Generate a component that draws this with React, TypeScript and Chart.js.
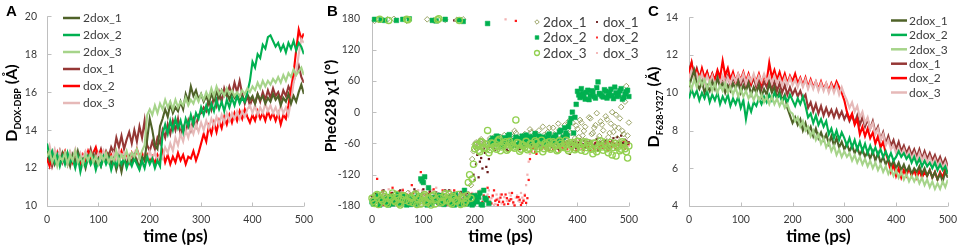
import React, { useEffect, useRef } from 'react';
import { Chart, registerables } from 'chart.js';

Chart.register(...registerables);

const FONT = "Lato, 'Liberation Sans', Arial, sans-serif";
const TICK_COLOR = '#3a3a3a';
const LEGEND_COLOR = '#404040';
const AXIS_COLOR = '#BFBFBF';

// time (ps), sampled every 5 ps
const TIME = [
  0, 5, 10, 15, 20, 25, 30, 35, 40, 45, 50, 55, 60, 65, 70, 75, 80, 85, 90, 95,
  100, 105, 110, 115, 120, 125, 130, 135, 140, 145, 150, 155, 160, 165, 170, 175, 180, 185, 190, 195,
  200, 205, 210, 215, 220, 225, 230, 235, 240, 245, 250, 255, 260, 265, 270, 275, 280, 285, 290, 295,
  300, 305, 310, 315, 320, 325, 330, 335, 340, 345, 350, 355, 360, 365, 370, 375, 380, 385, 390, 395,
  400, 405, 410, 415, 420, 425, 430, 435, 440, 445, 450, 455, 460, 465, 470, 475, 480, 485, 490, 495,
  500,
];
// intermediate frames (panel B scatter), every 5 ps offset by 2.5 ps
const TIME_ODD = [
  2.5, 7.5, 12.5, 17.5, 22.5, 27.5, 32.5, 37.5, 42.5, 47.5, 52.5, 57.5, 62.5, 67.5, 72.5, 77.5, 82.5, 87.5, 92.5, 97.5,
  102.5, 107.5, 112.5, 117.5, 122.5, 127.5, 132.5, 137.5, 142.5, 147.5, 152.5, 157.5, 162.5, 167.5, 172.5, 177.5, 182.5, 187.5, 192.5, 197.5,
  202.5, 207.5, 212.5, 217.5, 222.5, 227.5, 232.5, 237.5, 242.5, 247.5, 252.5, 257.5, 262.5, 267.5, 272.5, 277.5, 282.5, 287.5, 292.5, 297.5,
  302.5, 307.5, 312.5, 317.5, 322.5, 327.5, 332.5, 337.5, 342.5, 347.5, 352.5, 357.5, 362.5, 367.5, 372.5, 377.5, 382.5, 387.5, 392.5, 397.5,
  402.5, 407.5, 412.5, 417.5, 422.5, 427.5, 432.5, 437.5, 442.5, 447.5, 452.5, 457.5, 462.5, 467.5, 472.5, 477.5, 482.5, 487.5, 492.5, 497.5,
];

const SERIES = ['2dox_1', '2dox_2', '2dox_3', 'dox_1', 'dox_2', 'dox_3'];
const LINE_COLORS = ['#4F6228', '#00B050', '#A6D48A', '#953735', '#FF0000', '#E6B9B8'];

// ---------- Panel A : D DOX-DBP (Å) ----------
const A_2DOX_1 = [
  12.9, 12.4, 12.7, 12.2, 12.6, 12.3, 12.8, 12.4, 12.6, 12.1,
  12.7, 12.3, 12.9, 12.4, 12.5, 12.0, 12.6, 12.3, 12.7, 12.2,
  12.5, 12.1, 12.6, 12.3, 12.7, 12.2, 12.5, 11.9, 12.4, 11.8,
  12.5, 12.2, 12.6, 12.3, 12.7, 12.4, 12.0, 12.6, 12.4, 13.5,
  14.6, 14.0, 13.2, 13.0, 14.2, 14.6, 15.1, 14.7, 15.4, 14.9,
  15.2, 15.0, 15.5, 15.1, 15.9, 15.5, 16.3, 15.8, 16.1, 15.6,
  15.9, 15.5, 15.8, 15.4, 15.9, 15.6, 16.0, 15.7, 16.1, 15.8,
  16.0, 15.6, 16.0, 15.7, 15.9, 15.5, 15.8, 15.5, 15.9, 15.6,
  15.8, 15.4, 15.9, 15.6, 15.8, 15.4, 15.7, 15.5, 15.9, 15.6,
  15.8, 15.3, 15.7, 15.5, 15.9, 15.4, 15.8, 15.5, 16.0, 16.4,
  15.9,
];
const A_2DOX_2 = [
  13.3, 12.6, 12.9, 12.3, 12.7, 12.1, 12.6, 12.2, 12.8, 12.3,
  12.5, 12.0, 12.6, 11.8, 12.4, 12.1, 12.6, 12.2, 12.5, 11.9,
  12.4, 12.1, 12.6, 12.2, 12.5, 11.9, 12.4, 12.1, 12.6, 12.2,
  12.5, 12.0, 12.4, 12.1, 12.5, 12.2, 11.9, 12.4, 12.0, 12.6,
  12.2, 12.5, 12.0, 12.4, 12.1, 13.8, 14.3, 13.8, 14.5, 14.0,
  14.6, 14.1, 14.5, 13.9, 14.6, 14.2, 14.8, 14.3, 14.9, 14.6,
  15.2, 14.8, 15.3, 14.9, 15.4, 15.0, 15.6, 15.1, 15.5, 15.0,
  15.6, 15.2, 15.7, 15.3, 15.8, 15.4, 15.7, 15.5, 16.0, 16.6,
  17.6, 17.3, 18.0, 17.8, 18.5, 18.3, 18.9, 19.0, 18.7, 18.4,
  18.6, 18.2, 18.5, 18.1, 18.6, 18.3, 18.7, 18.2, 18.6, 18.4,
  18.0,
];
const A_2DOX_3 = [
  12.6, 12.9, 12.3, 12.7, 12.1, 12.6, 12.4, 12.8, 12.2, 12.7,
  12.4, 12.9, 12.3, 12.6, 12.2, 12.7, 12.4, 12.8, 12.3, 12.6,
  12.2, 12.7, 12.4, 12.8, 12.3, 12.6, 12.4, 12.9, 12.3, 12.7,
  12.5, 12.9, 12.4, 12.8, 12.6, 13.0, 12.5, 12.9, 13.2, 14.8,
  15.1, 14.8, 15.3, 14.9, 15.4, 15.1, 15.6, 15.2, 15.5, 15.1,
  15.6, 15.2, 15.5, 15.3, 15.7, 15.3, 15.6, 15.4, 15.8, 15.5,
  15.9, 15.6, 16.0, 15.7, 16.2, 15.8, 16.3, 15.9, 16.1, 15.8,
  16.2, 15.9, 16.1, 15.8, 16.0, 15.8, 16.1, 15.9, 16.2, 16.0,
  16.3, 16.1, 16.5, 16.2, 16.6, 16.3, 16.6, 16.4, 16.7, 16.5,
  16.8, 16.5, 16.9, 16.6, 17.0, 16.8, 17.2, 16.9, 17.1, 17.3,
  16.9,
];
const A_DOX_1 = [
  12.3, 12.8, 12.1, 12.6, 12.4, 12.9, 12.3, 12.7, 12.2, 12.8,
  12.5, 12.9, 12.4, 12.7, 12.3, 12.8, 12.5, 13.0, 12.4, 12.8,
  12.6, 13.0, 12.5, 12.9, 12.6, 13.1, 12.8, 13.6, 13.1, 13.7,
  13.0, 13.5, 13.9, 13.3, 14.0, 13.4, 14.2, 13.6, 14.5, 13.2,
  12.9, 13.4, 13.0, 13.6, 13.3, 14.0, 13.6, 14.3, 13.8, 14.5,
  14.0, 14.6, 13.8, 14.2, 13.9, 14.5, 14.0, 14.6, 14.2, 14.8,
  14.9, 15.2, 15.0, 15.6, 15.1, 15.8, 15.3, 16.0, 15.5, 16.2,
  15.8, 16.3, 15.9, 16.5, 16.0, 16.6, 15.9, 15.4, 15.8, 15.3,
  15.7, 15.4, 15.9, 15.5, 16.0, 15.6, 16.1, 15.7, 16.2, 15.8,
  16.0, 15.6, 16.1, 15.8, 16.3, 16.0, 16.6, 17.0, 17.4, 16.8,
  16.5,
];
const A_DOX_2 = [
  12.5, 12.1, 12.7, 12.3, 12.8, 12.2, 12.6, 12.9, 12.4, 12.7,
  12.3, 12.8, 12.5, 12.2, 12.7, 12.4, 12.9, 12.5, 12.8, 13.1,
  12.6, 12.9, 12.5, 12.8, 12.4, 12.7, 12.3, 12.8, 12.5, 12.9,
  12.4, 12.7, 12.3, 12.8, 12.5, 13.0, 12.6, 12.8, 12.4, 12.7,
  12.3, 12.6, 12.2, 12.7, 12.4, 12.9, 12.3, 12.7, 12.2, 12.6,
  12.3, 12.8, 12.4, 12.7, 12.2, 12.6, 12.5, 12.9, 12.4, 12.8,
  13.3, 13.8, 13.4, 14.2, 13.8, 14.4, 13.9, 14.5, 14.1, 14.7,
  14.3, 14.8, 14.4, 14.9, 14.5, 15.0, 14.6, 15.1, 14.7, 14.4,
  14.8, 14.5, 15.0, 14.6, 14.9, 14.5, 15.0, 14.6, 14.9, 14.5,
  14.9, 14.3, 14.8, 14.6, 15.3, 16.2, 17.0, 18.2, 19.3, 18.8,
  19.1,
];
const A_DOX_3 = [
  12.8, 13.2, 12.6, 13.0, 12.5, 12.9, 12.4, 12.8, 12.5, 12.9,
  12.6, 13.0, 12.4, 12.8, 12.5, 12.9, 12.6, 12.2, 12.7, 12.4,
  12.8, 12.5, 12.9, 12.4, 12.7, 12.3, 12.8, 12.5, 12.9, 12.6,
  12.8, 12.4, 12.7, 12.3, 12.8, 12.4, 12.6, 12.2, 12.7, 12.4,
  12.9, 12.5, 12.8, 12.4, 12.7, 12.5, 13.1, 12.8, 13.3, 12.9,
  13.6, 13.2, 13.8, 13.4, 14.0, 13.6, 14.2, 13.8, 14.3, 13.9,
  14.4, 14.0, 14.5, 14.1, 14.6, 14.2, 14.7, 14.3, 14.8, 14.4,
  14.9, 14.5, 14.9, 14.6, 15.0, 14.6, 15.0, 14.7, 15.1, 15.3,
  14.9, 15.3, 14.8, 15.2, 14.9, 15.4, 15.0, 15.3, 14.9, 15.2,
  14.8, 15.3, 14.9, 15.2, 14.8, 15.5, 16.5, 17.0, 18.0, 18.8,
  18.6,
];

// ---------- Panel B : Phe628 chi1 (deg) ----------
const B_2DOX_1 = [
  -168, 175, -160, -172, -158, -166, 178, -163, -170, -157,
  -167, -174, -161, -169, -155, -165, -172, -160, -168, -176,
  -162, -158, -170, -164, 176, -167, -159, -173, -163, -168,
  -156, -171, -165, 177, -161, -169, -158, -166, -172, -90,
  -62, -70, -55, -66, -59, -72, -50, -63, -57, -68,
  -48, -61, -54, -66, -45, -58, -40, -62, -52, -64,
  -46, -56, -38, -60, -50, -35, -58, -44, -62, -30,
  -53, -42, -58, -34, -48, -25, -55, -38, -20, -50,
  -32, -15, -45, -28, -60, -12, -40, -25, -52, -18,
  -35, -8, -48, -22, -38, -5, -30, 10, -42, 50,
  -20,
];
const B_2DOX_1_ODD = [
  -162, -171, 177, -166, -159, -174, -164, -169, 179, -161,
  -173, -158, -166, 175, -170, -162, -157, -171, -165, -160,
  -169, 178, -163, -172, -156, -166, -174, -160, 177, -165,
  -170, -159, -167, -174, -162, 178, -168, -157, -140, -75,
  -58, -67, -52, -61, -70, -56, -64, -48, -60, -53,
  -65, -44, -57, -50, -62, -36, -55, -47, -59, -42,
  -52, -33, -57, -41, -49, -61, -28, -47, -38, -55,
  -30, -46, -22, -52, -36, -44, -18, -40, -58, -26,
  -48, -20, -36, -55, -10, -42, -30, -2, -46, -24,
  -56, -14, -40, 0, -28, -50, -12, -36, 20, -45,
];
const B_2DOX_2 = [
  -172, 178, -165, -178, -168, 176, -174, -162, -176, -169,
  -158, -175, 178, -170, -163, -177, -166, -172, -160, -128,
  -135, -170, -145, -176, -164, 175, -171, -160, -177, -167,
  -173, -162, -178, -168, 177, -172, -150, -176, -165, -178,
  -160, -172, -155, -178, -165, 170, -58, -50, -62, -47,
  -56, -66, -52, -45, -60, -54, -48, -63, -51, -57,
  -44, -60, -53, -49, -58, -46, -55, -61, -50, -42,
  -57, -48, -54, -38, -52, -30, -45, -20, 0, -10,
  40, 28, 36, 25, 42, 32, 38, 27, 58, 34,
  29, 40, 31, 44, 26, 37, 33, 45, 28, 39,
  30,
];
const B_2DOX_2_ODD = [
  -176, -168, -160, 177, -172, -165, -178, -170, -163, 176,
  -174, -167, -160, -178, 179, -171, -164, -176, -168, -132,
  -124, -178, -165, 176, -171, -160, -175, -168, 178, -173,
  -165, -177, -158, -170, -176, 174, -166, -173, -161, -175,
  -170, -163, -177, -150, -168, -175, -54, -60, -46, -55,
  -62, -49, -58, -43, -55, -64, -50, -57, -46, -61,
  -52, -47, -57, -41, -63, -54, -48, -59, -45, -56,
  -50, -44, -59, -35, -48, -40, -28, -12, -40, 15,
  33, 45, 30, 38, 24, 41, 30, 47, 36, 31,
  43, 27, 38, 32, 48, 30, 41, 25, 35, 42,
];
const B_2DOX_3 = [
  -165, -175, -158, 178, -170, -162, -176, -167, -155, -172,
  -164, -178, -160, -169, 177, -163, -174, -157, -168, -176,
  -161, -171, -165, -178, -159, -168, 179, -174, -162, -170,
  -157, -176, -165, -171, 176, -163, -175, -160, -120, -128,
  -70, -62, -76, -58, -68, -35, -72, -60, -66, -55,
  -74, -63, -57, -70, -61, -67, -15, -59, -71, -64,
  -56, -69, -60, -73, -58, -65, -54, -70, -62, -57,
  -68, -60, -74, -55, -66, -61, -70, -58, -64, -72,
  -56, -67, -61, -75, -58, -66, -80, -60, -69, -55,
  -73, -63, -78, -58, -68, -84, -62, -71, -60, -76,
  -65,
];
const B_2DOX_3_ODD = [
  -171, -160, -177, -166, -157, -173, 176, -163, -169, -158,
  -175, -167, -161, 178, -172, -165, -159, -177, -163, -170,
  -158, -174, -166, -161, -176, 177, -164, -171, -156, -168,
  -173, -162, -169, -158, -177, -166, -171, -135, -165, -100,
  -64, -73, -57, -69, -62, -78, -59, -66, -71, -52,
  -67, -60, -73, -56, -64, -69, -58, -75, -62, -68,
  -72, -61, -66, -55, -70, -63, -76, -59, -67, -71,
  -57, -65, -72, -60, -68, -54, -74, -63, -58, -69,
  -62, -73, -57, -68, -64, -71, -59, -76, -63, -67,
  -58, -70, -65, -82, -60, -68, -74, -57, -70, -88,
];
const B_DOX_1 = [
  -163, -170, -158, 174, -166, -175, -160, -168, -155, -172,
  -164, -150, -169, -161, -174, -158, -166, -152, -171, -162,
  -148, -168, -157, -173, -163, -154, -170, -160, -175, -165,
  -150, -168, 176, -162, -172, -158, -166, -155, -170, -176,
  -130, -82, -95, -108, -78, -115, -66, -58, -72, -62,
  -54, -68, -60, -75, -56, -64, -52, -69, -61, -57,
  -66, -59, -63, -55, -70, -60, -65, -53, -62, -58,
  -67, -61, -54, -72, -59, -63, -56, -80, -60, -57,
  -64, -52, -61, -68, -58, -55, -63, -60, -74, -57,
  -62, -54, -66, -59, -50, -63, -57, -45, -60, -55,
  -58,
];
const B_DOX_1_ODD = [
  -168, -156, -173, -162, -150, -170, -165, -158, -176, -161,
  -156, -170, -163, -175, -159, -167, -148, -172, -160, -155,
  -166, -174, -152, -169, -161, -176, -158, -165, -150, -171,
  -162, -157, -174, -166, -153, -170, -160, -176, -164, -120,
  -100, -125, -88, -70, -105, -90, -62, -70, -55, -66,
  -61, -58, -72, -63, -57, -66, -60, -71, -54, -65,
  -58, -67, -61, -56, -64, -72, -57, -62, -68, -55,
  -63, -58, -70, -61, -56, -66, -60, -64, -57, -69,
  -59, -66, -55, -62, -70, -58, -64, -52, -61, -67,
  -57, -63, -70, -56, -62, -48, -66, -59, -53, -61,
];
const B_DOX_2 = [
  -170, -178, -128, -165, -152, -175, -162, -170, -145, -176,
  -160, -168, -150, -174, -163, -171, -155, -178, -166, -115,
  -172, -158, -169, -176, -148, -164, -172, -157, -168, -178,
  -161, -170, -150, -175, -163, -168, -156, -173, -165, -160,
  -176, -168, -158, -172, -165, -145, -175, -160, -170, -178,
  -164, -172, -158, -176, -167, -173, 175, -163, -178, -170,
  -174, -130, -75, -68, -80, -62, -71, -66, -58, -73,
  -64, -69, -60, -75, -66, -58, -70, -63, -72, -60,
  -67, -56, -70, -64, -61, -73, -66, -59, -70, -63,
  -68, -58, -72, -65, -60, -70, -62, -67, -55, -64,
  -60,
];
const B_DOX_2_ODD = [
  -162, -174, -157, -168, -178, -160, -171, -155, -166, -173,
  -152, -176, -165, -158, -170, -140, -167, -162, -175, -160,
  -165, -177, -153, -170, -160, -174, -162, -150, -173, -166,
  -158, -176, -165, -171, -154, -178, -162, -169, -157, -174,
  -166, -155, -177, -160, -170, -163, -175, -150, -168, -172,
  -158, -177, -165, -170, -155, -179, -163, -168, -174, -160,
  -165, -90, -70, -77, -64, -72, -60, -70, -65, -62,
  -72, -58, -66, -62, -70, -64, -57, -68, -61, -74,
  -60, -65, -72, -58, -67, -62, -70, -56, -66, -61,
  -63, -71, -57, -66, -62, -69, -58, -64, -70, -59,
];
const B_DOX_3 = [
  -160, -172, -155, -168, -150, -164, -176, -158, -166, -152,
  -170, -162, -148, -167, -174, -156, -163, -170, -150, -165,
  -158, -172, -162, -154, -168, -145, -164, -172, -158, -166,
  -176, -160, -152, -169, -163, -157, -171, -160, -166, -155,
  -170, -162, -150, -174, -165, -158, -170, -162, -176, -166,
  -158, -172, 178, -168, -160, -175, -164, -170, -155, -168,
  -140, -95, -72, -65, -78, -60, -69, -62, -74, -58,
  -67, -63, -70, -57, -66, -61, -73, -59, -68, -64,
  -55, -70, -62, -67, -58, -72, -61, -66, -57, -69,
  -63, -58, -71, -62, -67, -60, -65, -56, -68, -62,
  -64,
];
const B_DOX_3_ODD = [
  -166, -154, -171, -162, -158, -170, -148, -165, -172, -160,
  -155, -168, -175, -160, -152, -166, -171, -158, -163, -150,
  -168, -160, -176, -150, -165, -160, -170, -155, -174, -162,
  -150, -166, -172, -158, -168, -176, -162, -154, -170, -163,
  -156, -174, -166, -160, -172, -150, -165, -178, -158, -168,
  -175, -163, -170, -155, -167, -178, -160, -172, -164, -158,
  -120, -80, -68, -74, -62, -70, -66, -59, -72, -63,
  -60, -69, -64, -72, -58, -66, -62, -70, -57, -67,
  -64, -59, -68, -61, -73, -60, -65, -70, -58, -63,
  -69, -61, -66, -57, -64, -71, -60, -67, -62, -58,
];

// ---------- Panel C : D F628-Y327 (Å) ----------
const C_2DOX_1 = [
  10.3, 10.8, 11.2, 10.5, 10.2, 10.6, 10.0, 10.4, 10.1, 10.6,
  10.2, 10.8, 10.3, 10.5, 10.0, 10.4, 10.1, 10.5, 10.2, 10.6,
  10.0, 10.4, 10.1, 10.5, 9.9, 10.3, 10.0, 10.4, 9.8, 10.2,
  9.9, 10.5, 10.0, 10.3, 9.7, 10.1, 9.6, 9.9, 9.2, 8.8,
  8.4, 8.7, 8.3, 8.6, 8.0, 8.4, 7.9, 8.2, 7.7, 8.1,
  7.6, 7.9, 7.5, 7.8, 7.3, 7.7, 7.2, 7.6, 7.1, 7.4,
  7.0, 7.3, 6.9, 7.2, 6.8, 7.1, 6.7, 7.0, 6.6, 6.9,
  6.5, 6.9, 6.4, 6.8, 6.3, 6.6, 6.2, 6.5, 6.1, 6.4,
  6.0, 6.3, 5.9, 6.2, 5.8, 6.1, 5.7, 6.0, 5.8, 6.1,
  5.7, 6.0, 5.6, 5.9, 5.5, 5.8, 5.4, 5.7, 5.3, 5.8,
  5.5,
];
const C_2DOX_2 = [
  9.7, 10.2, 9.8, 10.1, 9.6, 10.0, 9.7, 10.1, 9.5, 9.9,
  9.6, 10.0, 9.4, 9.8, 9.5, 9.9, 9.3, 9.7, 9.4, 9.8,
  9.2, 9.6, 8.6, 9.4, 9.0, 9.5, 9.3, 9.7, 9.4, 9.8,
  9.5, 9.9, 9.6, 10.0, 9.7, 9.9, 9.5, 9.8, 9.5, 9.9,
  9.6, 9.3, 9.7, 9.4, 9.8, 9.3, 8.7, 8.9, 8.4, 8.8,
  8.3, 8.6, 8.2, 8.5, 7.8, 8.1, 7.6, 8.0, 7.5, 7.9,
  7.6, 7.2, 7.6, 7.1, 7.5, 7.0, 7.4, 6.9, 7.3, 6.8,
  7.2, 6.8, 7.1, 6.7, 7.0, 6.6, 6.9, 6.5, 6.8, 6.4,
  6.6, 6.9, 6.6, 6.8, 6.5, 6.7, 6.3, 6.6, 6.2, 6.5,
  6.1, 6.4, 6.1, 6.3, 6.0, 6.3, 5.9, 6.2, 5.9, 6.1,
  5.7,
];
const C_2DOX_3 = [
  10.6, 10.2, 10.7, 10.3, 10.8, 10.4, 10.7, 10.2, 10.6, 10.1,
  10.5, 10.0, 10.4, 10.1, 10.5, 10.0, 10.3, 9.9, 10.3, 9.8,
  10.2, 9.8, 10.1, 9.7, 10.0, 9.6, 10.0, 9.6, 9.9, 9.5,
  9.8, 9.4, 9.8, 9.4, 9.7, 9.3, 9.6, 9.2, 9.4, 9.0,
  8.9, 8.5, 8.7, 8.2, 8.5, 8.0, 8.2, 7.7, 8.0, 7.5,
  7.8, 7.3, 7.6, 7.1, 7.4, 6.9, 7.2, 6.7, 7.0, 6.6,
  6.9, 6.6, 6.8, 6.4, 6.7, 6.3, 6.6, 6.2, 6.5, 6.1,
  6.4, 6.0, 6.3, 5.9, 6.2, 5.8, 6.1, 5.7, 6.0, 5.6,
  5.9, 5.5, 5.8, 5.4, 5.7, 5.3, 5.6, 5.3, 5.6, 5.2,
  5.5, 5.1, 5.4, 5.0, 5.3, 4.9, 5.2, 4.9, 5.3, 5.0,
  5.4,
];
const C_DOX_1 = [
  11.2, 11.6, 10.9, 11.3, 10.8, 11.2, 10.7, 11.1, 10.6, 11.0,
  10.5, 10.9, 10.4, 10.8, 10.5, 10.9, 10.4, 10.8, 10.5, 10.9,
  10.4, 10.8, 10.3, 10.7, 10.4, 10.8, 10.3, 10.7, 10.2, 10.6,
  10.3, 10.7, 10.2, 10.6, 10.1, 10.5, 10.0, 10.4, 9.9, 10.3,
  9.9, 10.2, 9.8, 10.1, 9.7, 9.9, 9.2, 9.5, 9.0, 9.4,
  8.9, 9.3, 8.8, 9.2, 8.8, 9.1, 8.7, 9.1, 8.7, 9.0,
  8.6, 8.9, 8.5, 8.8, 8.4, 8.8, 8.3, 8.7, 8.2, 8.6,
  8.1, 8.5, 7.9, 8.2, 7.5, 7.9, 7.3, 7.7, 7.2, 7.5,
  7.0, 7.4, 6.9, 7.2, 6.8, 7.1, 6.7, 7.0, 6.6, 7.0,
  6.5, 6.9, 6.5, 6.8, 6.4, 6.7, 6.3, 6.6, 6.2, 6.5,
  6.1,
];
const C_DOX_2 = [
  11.0, 11.6, 10.8, 11.2, 10.7, 11.3, 10.8, 11.1, 10.6, 11.0,
  10.7, 11.2, 10.8, 11.7, 10.9, 11.3, 10.7, 11.1, 10.6, 11.0,
  10.7, 11.1, 10.6, 11.0, 10.5, 10.9, 10.6, 11.0, 10.5, 10.9,
  10.6, 11.6, 10.8, 11.2, 10.7, 11.1, 10.6, 11.0, 10.5, 10.9,
  10.6, 11.0, 10.5, 10.8, 10.4, 10.8, 10.3, 10.7, 10.3, 10.6,
  10.2, 10.6, 10.2, 10.5, 10.1, 10.5, 10.2, 10.6, 10.3, 10.0,
  9.6, 9.0, 8.6, 8.9, 8.3, 8.6, 7.8, 8.2, 7.7, 8.1,
  7.6, 7.9, 7.3, 7.7, 7.1, 7.4, 6.8, 6.4, 5.8, 6.2,
  5.6, 6.0, 5.5, 5.9, 5.6, 6.0, 5.6, 5.9, 5.5, 5.9,
  5.5, 5.8, 5.6, 5.9, 5.5, 5.8, 5.4, 5.8, 5.5, 6.0,
  5.8,
];
const C_DOX_3 = [
  10.8, 11.2, 10.7, 11.0, 10.6, 11.0, 10.5, 10.9, 10.5, 10.9,
  10.4, 10.8, 10.5, 10.9, 10.4, 10.8, 10.5, 10.9, 10.6, 11.0,
  10.6, 11.0, 10.5, 10.9, 10.6, 11.0, 10.5, 10.9, 10.6, 11.0,
  10.6, 10.9, 10.5, 10.9, 10.5, 10.8, 10.4, 10.8, 10.4, 10.8,
  10.4, 10.7, 10.3, 10.7, 10.3, 10.7, 10.2, 10.6, 10.2, 10.6,
  10.1, 10.5, 10.1, 10.5, 10.0, 10.4, 10.0, 10.4, 9.9, 10.3,
  9.9, 9.6, 9.2, 9.5, 9.0, 9.3, 8.7, 9.0, 8.4, 8.7,
  8.1, 8.4, 7.8, 8.1, 7.5, 7.8, 7.2, 7.5, 7.0, 7.2,
  6.8, 7.1, 6.7, 7.0, 6.6, 6.9, 6.5, 6.8, 6.4, 6.8,
  6.4, 6.7, 6.3, 6.6, 6.2, 6.5, 6.1, 6.4, 6.0, 6.3,
  5.9,
];

// scatter marker styles for panel B
type Marker = { style: string; r: number; fill: string; stroke: string; bw: number };
const B_MARKERS: Marker[] = [
  { style: 'rectRot', r: 2.8, fill: 'rgba(0,0,0,0)', stroke: '#9AA366', bw: 1 },
  { style: 'rect', r: 3.3, fill: '#00B050', stroke: '#00B050', bw: 0.5 },
  { style: 'circle', r: 3.1, fill: 'rgba(0,0,0,0)', stroke: '#92D050', bw: 1.3 },
  { style: 'rect', r: 1.6, fill: '#6B1A1A', stroke: '#6B1A1A', bw: 0 },
  { style: 'rect', r: 1.6, fill: '#FF1A1A', stroke: '#FF1A1A', bw: 0 },
  { style: 'rect', r: 1.6, fill: '#F3B3B3', stroke: '#F3B3B3', bw: 0 },
];

type TitlePart = { text: string; size: number; dy: number };

interface PanelSpec {
  id: string;
  left: number;
  width: number;
  letter: string;
  letterX: number;
  plotLeft: number;
  plotRight: number;
  yMin: number;
  yMax: number;
  yStep: number;
  yPad: number;
  yTitle: TitlePart[];
  yTitleX: number;
  yTitleY: number;
  kind: 'line' | 'scatter';
  series: number[][];
  seriesOdd?: number[][];
  drawLegend: (ctx: CanvasRenderingContext2D) => void;
}

function drawMarker(ctx: CanvasRenderingContext2D, m: Marker, x: number, y: number, scale = 1) {
  const r = m.r * scale;
  ctx.save();
  ctx.fillStyle = m.fill;
  ctx.strokeStyle = m.stroke;
  ctx.lineWidth = m.bw;
  ctx.beginPath();
  if (m.style === 'circle') {
    ctx.arc(x, y, r, 0, Math.PI * 2);
  } else if (m.style === 'rectRot') {
    ctx.moveTo(x, y - r);
    ctx.lineTo(x + r, y);
    ctx.lineTo(x, y + r);
    ctx.lineTo(x - r, y);
    ctx.closePath();
  } else {
    const s = r * Math.SQRT1_2;
    ctx.rect(x - s, y - s, 2 * s, 2 * s);
  }
  ctx.fill();
  if (m.bw > 0) ctx.stroke();
  ctx.restore();
}

function lineLegend(x0: number, x1: number, tx: number, y0: number, dy: number, size: number) {
  return (ctx: CanvasRenderingContext2D) => {
    ctx.save();
    ctx.font = `${size}px ${FONT}`;
    ctx.textBaseline = 'middle';
    ctx.textAlign = 'left';
    SERIES.forEach((name, i) => {
      const y = y0 + i * dy;
      ctx.strokeStyle = LINE_COLORS[i];
      ctx.lineWidth = 2.5;
      ctx.beginPath();
      ctx.moveTo(x0, y);
      ctx.lineTo(x1, y);
      ctx.stroke();
      ctx.fillStyle = LEGEND_COLOR;
      ctx.fillText(name, tx, y + 0.5);
    });
    ctx.restore();
  };
}

function scatterLegend(ctx: CanvasRenderingContext2D) {
  const cols = [
    { mx: 217, tx: 223 },
    { mx: 277, tx: 283 },
  ];
  ctx.save();
  ctx.font = `13.5px ${FONT}`;
  ctx.textBaseline = 'middle';
  ctx.textAlign = 'left';
  SERIES.forEach((name, i) => {
    const col = cols[Math.floor(i / 3)];
    const y = 22 + (i % 3) * 15.5;
    drawMarker(ctx, B_MARKERS[i], col.mx, y, 0.8);
    ctx.fillStyle = LEGEND_COLOR;
    ctx.fillText(name, col.tx, y + 0.5);
  });
  ctx.restore();
}

const SUB_A: TitlePart[] = [
  { text: 'D', size: 16, dy: 0 },
  { text: 'DOX-DBP', size: 9, dy: 4 },
  { text: ' (Å)', size: 16, dy: 0 },
];
const SUB_B: TitlePart[] = [{ text: 'Phe628 χ1 (°)', size: 15.5, dy: 0 }];
const SUB_C: TitlePart[] = [
  { text: 'D', size: 16, dy: 0 },
  { text: 'F628-Y327', size: 9, dy: 4 },
  { text: ' (Å)', size: 16, dy: 0 },
];

const PANELS: PanelSpec[] = [
  {
    id: 'A', left: 0, width: 320, letter: 'A', letterX: 6,
    plotLeft: 47, plotRight: 310, yMin: 10, yMax: 20, yStep: 2, yPad: 10,
    yTitle: SUB_A, yTitleX: 17, yTitleY: 103, kind: 'line',
    series: [A_2DOX_1, A_2DOX_2, A_2DOX_3, A_DOX_1, A_DOX_2, A_DOX_3],
    drawLegend: lineLegend(63, 80, 83, 18, 17, 12),
  },
  {
    id: 'B', left: 320, width: 325, letter: 'B', letterX: 7,
    plotLeft: 52, plotRight: 315, yMin: -180, yMax: 180, yStep: 60, yPad: 12,
    yTitle: SUB_B, yTitleX: 16, yTitleY: 106, kind: 'scatter',
    series: [B_2DOX_1, B_2DOX_2, B_2DOX_3, B_DOX_1, B_DOX_2, B_DOX_3],
    seriesOdd: [B_2DOX_1_ODD, B_2DOX_2_ODD, B_2DOX_3_ODD, B_DOX_1_ODD, B_DOX_2_ODD, B_DOX_3_ODD],
    drawLegend: scatterLegend,
  },
  {
    id: 'C', left: 645, width: 319, letter: 'C', letterX: 3,
    plotLeft: 44, plotRight: 307, yMin: 4, yMax: 14, yStep: 2, yPad: 11,
    yTitle: SUB_C, yTitleX: 14, yTitleY: 107, kind: 'line',
    series: [C_2DOX_1, C_2DOX_2, C_2DOX_3, C_DOX_1, C_DOX_2, C_DOX_3],
    drawLegend: lineLegend(246, 262, 264, 20.5, 14.4, 12),
  },
];

// drawing order (lower = on top)
const LINE_ORDER = [2, 1, 0, 5, 4, 3];
const SCATTER_ORDER = [2, 1, 0, 3, 4, 5];

function Panel({ spec }: { spec: PanelSpec }) {
  const ref = useRef<HTMLCanvasElement | null>(null);

  useEffect(() => {
    const canvas = ref.current;
    if (!canvas) return;

    const datasets = spec.series.map((arr, i) => {
      const data = TIME.map((t, k) => ({ x: t, y: arr[k] }));
      if (spec.kind === 'line') {
        return {
          label: SERIES[i],
          data,
          borderColor: LINE_COLORS[i],
          backgroundColor: LINE_COLORS[i],
          borderWidth: 2.1,
          borderJoinStyle: 'miter',
          pointRadius: 0,
          tension: 0,
          fill: false,
          order: LINE_ORDER[i],
        };
      }
      const odd = spec.seriesOdd ? spec.seriesOdd[i] : [];
      const extra = TIME_ODD.map((t, k) => ({ x: t, y: odd[k] }));
      const m = B_MARKERS[i];
      return {
        label: SERIES[i],
        data: data.concat(extra),
        pointStyle: m.style,
        pointRadius: m.r,
        pointBackgroundColor: m.fill,
        pointBorderColor: m.stroke,
        pointBorderWidth: m.bw,
        showLine: false,
        clip: false,
        order: SCATTER_ORDER[i],
      };
    });

    const decor = {
      id: 'decor' + spec.id,
      beforeDatasetsDraw(chart: any) {
        const { ctx, chartArea } = chart;
        const { left, right, top, bottom } = chartArea;
        ctx.save();
        ctx.strokeStyle = AXIS_COLOR;
        ctx.lineWidth = 1;
        const lx = Math.round(left) + 0.5;
        const by = Math.round(bottom) + 0.5;
        ctx.beginPath();
        ctx.moveTo(lx, top);
        ctx.lineTo(lx, by);
        ctx.lineTo(right, by);
        ctx.stroke();
        const ys = chart.scales.y;
        ys.ticks.forEach((t: any) => {
          const y = Math.round(ys.getPixelForValue(t.value)) + 0.5;
          ctx.beginPath();
          ctx.moveTo(lx, y);
          ctx.lineTo(lx + 4, y);
          ctx.stroke();
        });
        const xs = chart.scales.x;
        xs.ticks.forEach((t: any) => {
          const x = Math.round(xs.getPixelForValue(t.value)) + 0.5;
          ctx.beginPath();
          ctx.moveTo(x, by);
          ctx.lineTo(x, by - 4);
          ctx.stroke();
        });
        ctx.restore();
      },
      afterDraw(chart: any) {
        const { ctx, chartArea } = chart;
        ctx.save();
        ctx.fillStyle = '#000';
        ctx.font = `bold 15px 'Liberation Sans', Arial, sans-serif`;
        ctx.textBaseline = 'alphabetic';
        ctx.textAlign = 'left';
        ctx.fillText(spec.letter, spec.letterX, 16);
        ctx.font = `bold 17px ${FONT}`;
        ctx.textAlign = 'center';
        ctx.fillText('time (ps)', (chartArea.left + chartArea.right) / 2, 242);
        let total = 0;
        const widths = spec.yTitle.map((p) => {
          ctx.font = `bold ${p.size}px ${FONT}`;
          const w = ctx.measureText(p.text).width;
          total += w;
          return w;
        });
        ctx.translate(spec.yTitleX, spec.yTitleY);
        ctx.rotate(-Math.PI / 2);
        ctx.textAlign = 'left';
        let x = -total / 2;
        spec.yTitle.forEach((p, i) => {
          ctx.font = `bold ${p.size}px ${FONT}`;
          ctx.fillText(p.text, x, p.dy);
          x += widths[i];
        });
        ctx.restore();
        spec.drawLegend(ctx);
      },
    };

    const tickFont = { family: FONT, size: 10.5 };
    const chart = new Chart(canvas, {
      type: spec.kind === 'line' ? 'line' : 'scatter',
      data: { datasets } as any,
      options: {
        animation: false,
        responsive: false,
        devicePixelRatio: 1,
        events: [],
        layout: { padding: { left: 0, top: 13, right: spec.width - spec.plotRight, bottom: 0 } },
        plugins: {
          legend: { display: false },
          tooltip: { enabled: false },
          title: { display: false },
        },
        scales: {
          x: {
            type: 'linear',
            min: 0,
            max: 500,
            ticks: { stepSize: 100, padding: 7, color: TICK_COLOR, font: tickFont, maxRotation: 0, autoSkip: false },
            grid: { display: false, drawTicks: false },
            border: { display: false },
            afterFit: (s: any) => { s.height = 45; },
          },
          y: {
            type: 'linear',
            min: spec.yMin,
            max: spec.yMax,
            ticks: { stepSize: spec.yStep, padding: spec.yPad, color: TICK_COLOR, font: tickFont, autoSkip: false },
            grid: { display: false, drawTicks: false },
            border: { display: false },
            afterFit: (s: any) => { s.width = spec.plotLeft; },
          },
        },
      } as any,
      plugins: [decor],
    });
    return () => chart.destroy();
  }, [spec]);

  return (
    <canvas
      ref={ref}
      width={spec.width}
      height={251}
      style={{ position: 'absolute', left: spec.left, top: 0, width: spec.width, height: 251 }}
    />
  );
}

export default function App() {
  return (
    <div style={{ position: 'absolute', left: 0, top: 0, width: 964, height: 251, background: '#fff', overflow: 'hidden' }}>
      {PANELS.map((p) => (
        <Panel key={p.id} spec={p} />
      ))}
    </div>
  );
}
